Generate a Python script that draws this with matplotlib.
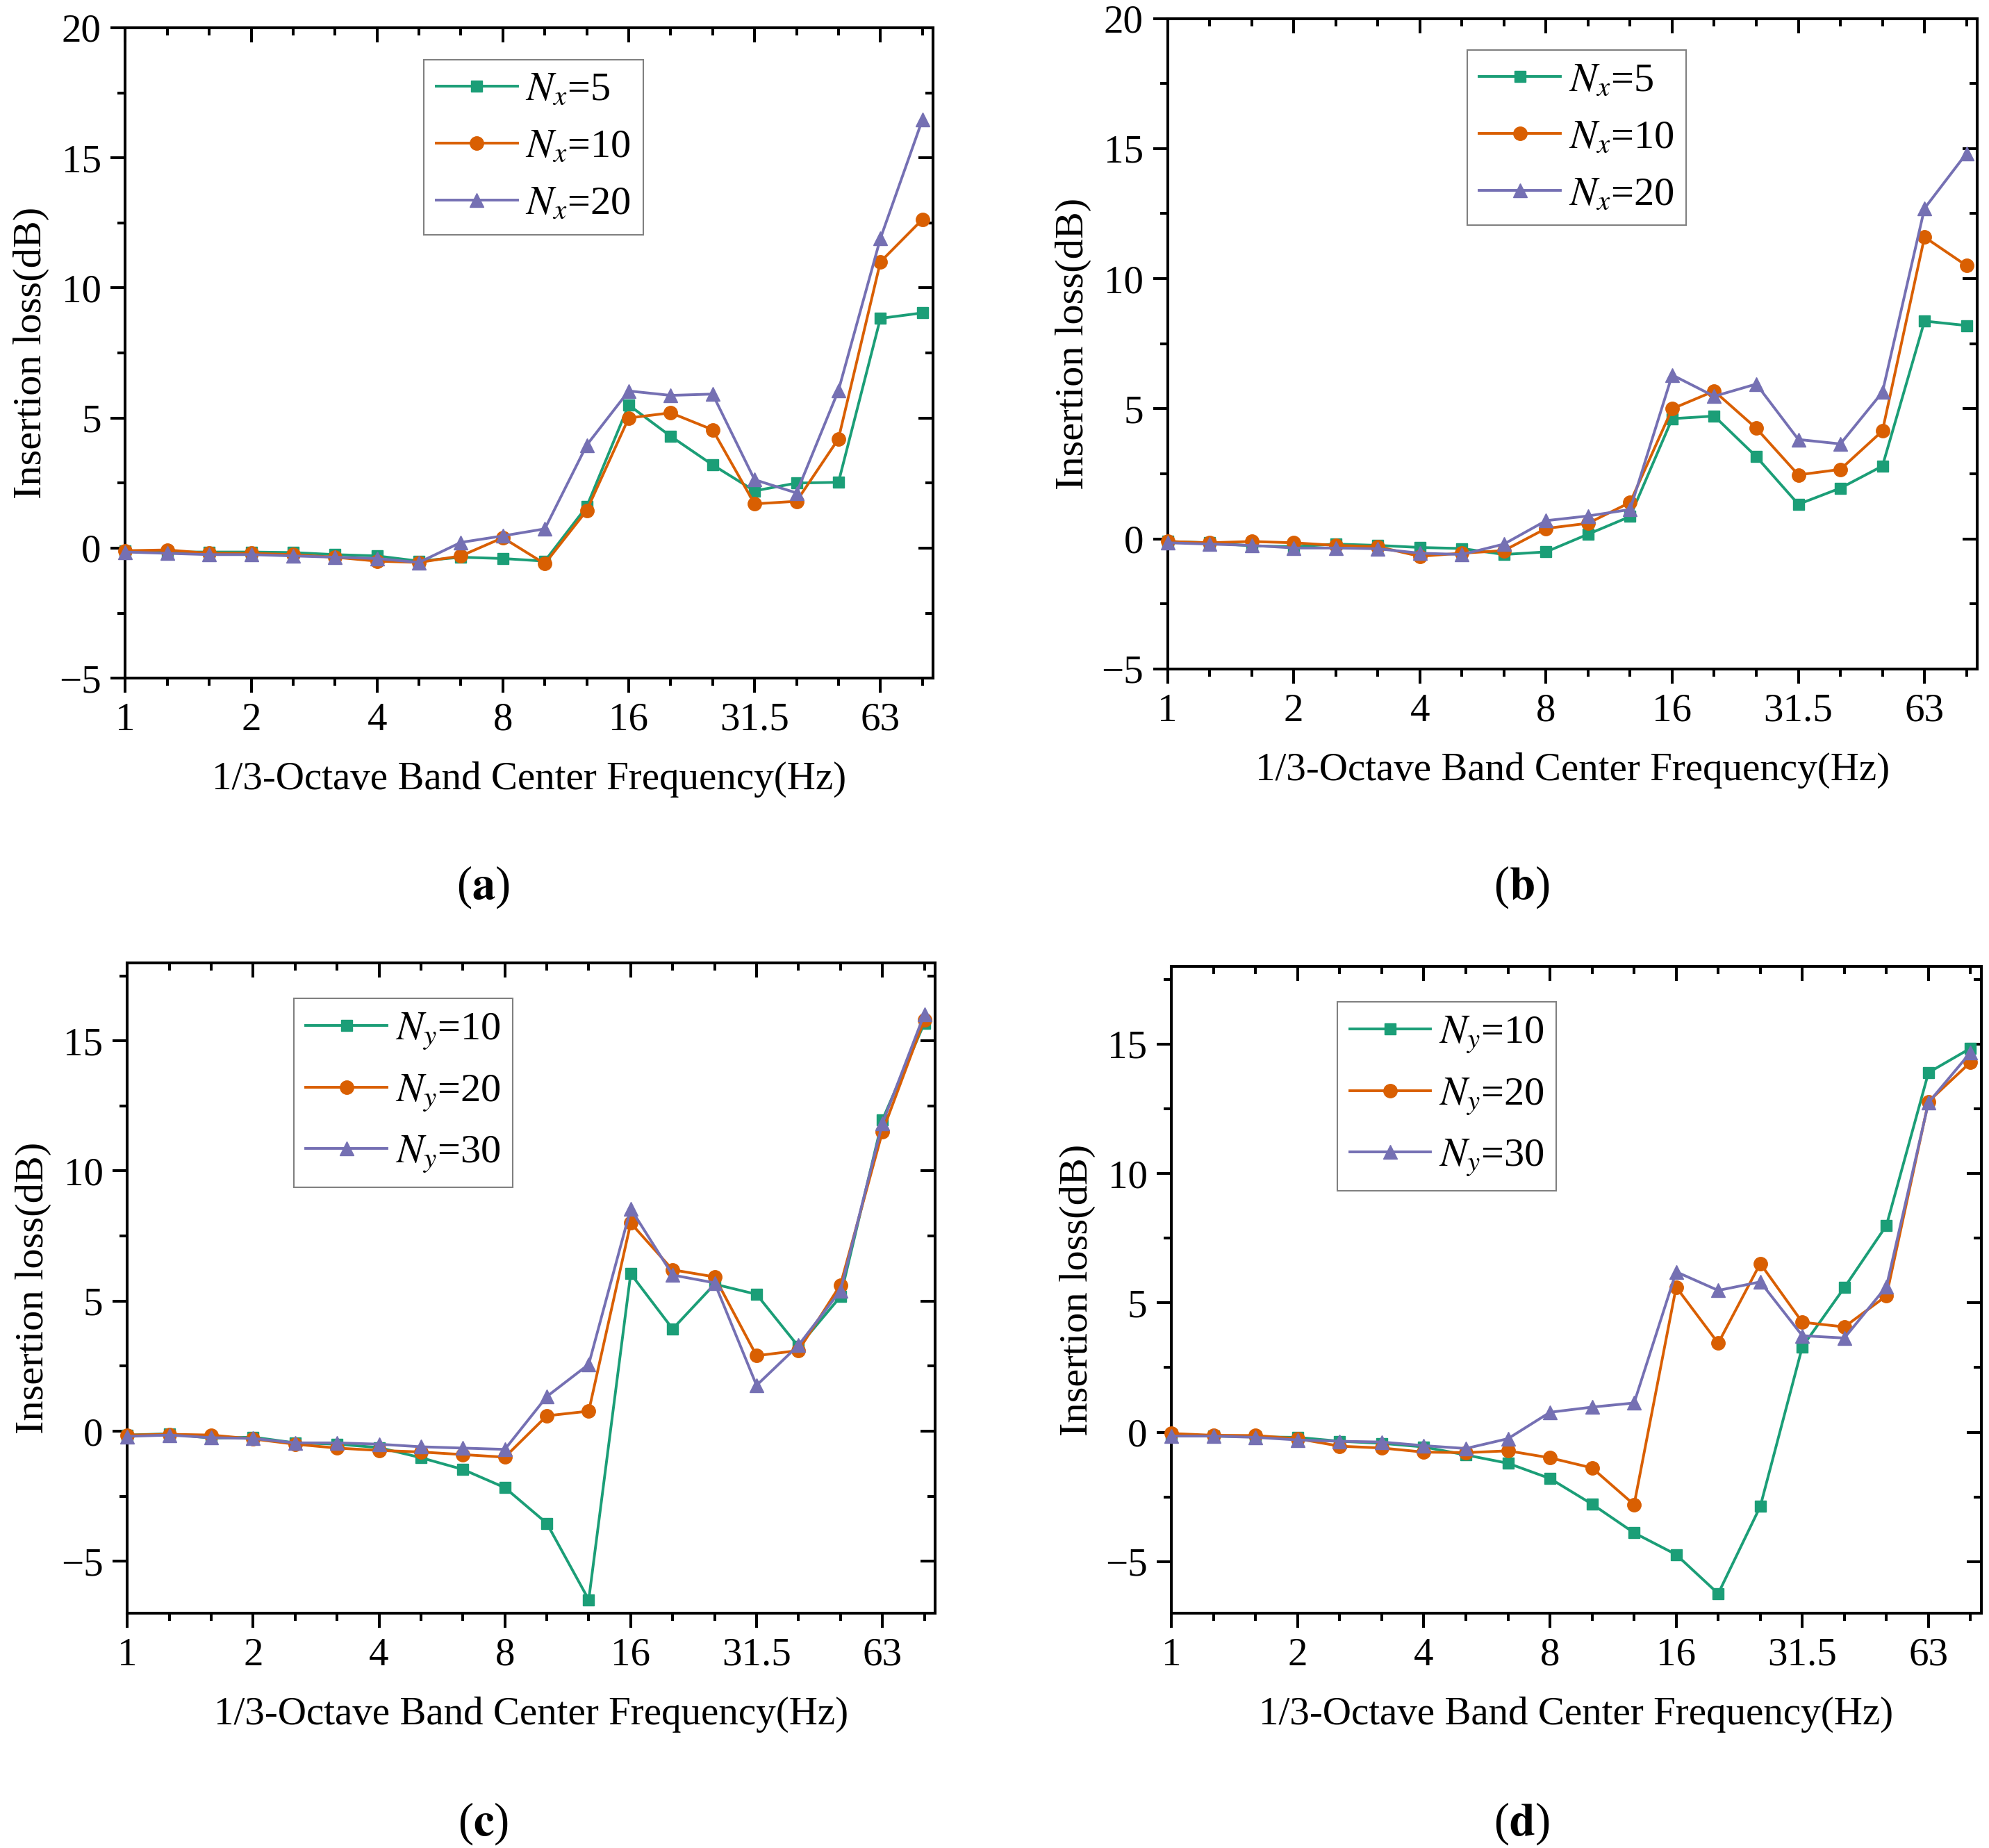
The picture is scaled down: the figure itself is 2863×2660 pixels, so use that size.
import matplotlib
matplotlib.use("Agg")
from matplotlib import pyplot as plt
from matplotlib.ticker import FixedLocator, MultipleLocator

plt.rcParams['font.family'] = ['Liberation Serif', 'DejaVu Serif']
plt.rcParams['mathtext.fontset'] = 'stix'

freq_labels = ['1', '1.25', '1.6', '2', '2.5', '3.15', '4', '5', '6.3', '8',
               '10', '12.5', '16', '20', '25', '31.5', '40', '50', '63', '80']
shown_ticks = ['1', '2', '4', '8', '16', '31.5', '63']

# (a) varying Nx
a_nx5 = [-0.1, -0.15, -0.15, -0.15, -0.17, -0.25, -0.3, -0.5, -0.35, -0.4,
         -0.5, 1.6, 5.5, 4.3, 3.2, 2.2, 2.5, 2.53, 8.83, 9.04]
a_nx10 = [-0.1, -0.07, -0.2, -0.2, -0.25, -0.35, -0.5, -0.55, -0.3, 0.4,
          -0.6, 1.45, 5.0, 5.2, 4.55, 1.7, 1.8, 4.2, 11.0, 12.63]
a_nx20 = [-0.15, -0.2, -0.25, -0.25, -0.3, -0.35, -0.4, -0.55, 0.22, 0.47,
          0.74, 3.96, 6.04, 5.87, 5.92, 2.63, 2.12, 6.06, 11.9, 16.46]

# (b) varying Nx
b_nx5 = [-0.1, -0.15, -0.27, -0.3, -0.2, -0.25, -0.33, -0.37, -0.6, -0.5,
         0.18, 0.86, 4.62, 4.72, 3.16, 1.33, 1.95, 2.8, 8.37, 8.2]
b_nx10 = [-0.1, -0.15, -0.1, -0.15, -0.25, -0.3, -0.67, -0.55, -0.45, 0.4,
          0.6, 1.4, 5.0, 5.68, 4.25, 2.46, 2.67, 4.15, 11.6, 10.5]
b_nx20 = [-0.15, -0.2, -0.25, -0.35, -0.35, -0.38, -0.55, -0.6, -0.2, 0.7,
          0.88, 1.13, 6.3, 5.48, 5.95, 3.82, 3.65, 5.64, 12.7, 14.82]

# (c) varying Ny
c_ny10 = [-0.15, -0.1, -0.27, -0.23, -0.45, -0.5, -0.63, -1.02, -1.47, -2.17,
          -3.54, -6.48, 6.05, 3.93, 5.65, 5.26, 3.25, 5.17, 11.96, 15.68]
c_ny20 = [-0.15, -0.12, -0.15, -0.3, -0.5, -0.65, -0.74, -0.8, -0.9, -1.0,
          0.59, 0.77, 8.0, 6.2, 5.93, 2.9, 3.1, 5.62, 11.5, 15.82]
c_ny30 = [-0.2, -0.15, -0.25, -0.28, -0.45, -0.45, -0.5, -0.6, -0.65, -0.7,
          1.33, 2.57, 8.55, 6.0, 5.7, 1.76, 3.3, 5.4, 11.83, 16.03]

# (d) varying Ny
d_ny10 = [-0.1, -0.15, -0.18, -0.2, -0.35, -0.43, -0.57, -0.88, -1.2, -1.79,
          -2.78, -3.89, -4.73, -6.24, -2.87, 3.3, 5.59, 7.99, 13.9, 14.84]
d_ny20 = [-0.05, -0.12, -0.13, -0.25, -0.54, -0.61, -0.77, -0.79, -0.72, -0.99,
          -1.38, -2.8, 5.61, 3.44, 6.52, 4.25, 4.07, 5.27, 12.78, 14.3]
d_ny30 = [-0.15, -0.15, -0.2, -0.3, -0.35, -0.38, -0.52, -0.63, -0.25, 0.77,
          0.97, 1.13, 6.2, 5.48, 5.81, 3.73, 3.64, 5.63, 12.74, 14.68]

colors = ['#1b9e77', '#d95f02', '#7570b3']
markers = ['s', 'o', '^']
marker_sizes = [12, 14, 15]

# letter, axes rect, y range, series, legend labels, legend corner, label centre
panels = [
    ('a', [0.063, 0.633, 0.406, 0.352], (-5, 20), [a_nx5, a_nx10, a_nx20],
     ['$N_x$=5', '$N_x$=10', '$N_x$=20'], (0.37, 0.951), (0.243, 0.520)),
    ('b', [0.587, 0.638, 0.407, 0.352], (-5, 20), [b_nx5, b_nx10, b_nx20],
     ['$N_x$=5', '$N_x$=10', '$N_x$=20'], (0.37, 0.951), (0.765, 0.520)),
    ('c', [0.064, 0.127, 0.406, 0.352], (-7, 18), [c_ny10, c_ny20, c_ny30],
     ['$N_y$=10', '$N_y$=20', '$N_y$=30'], (0.206, 0.945), (0.243, 0.013)),
    ('d', [0.589, 0.127, 0.407, 0.350], (-7, 18), [d_ny10, d_ny20, d_ny30],
     ['$N_y$=10', '$N_y$=20', '$N_y$=30'], (0.205, 0.945), (0.765, 0.013)),
]

fig = plt.figure(figsize=(28.63, 26.60), dpi=100)
x = list(range(len(freq_labels)))
major_pos = [freq_labels.index(t) for t in shown_ticks]

for letter, rect, ylim, series, labels, leg_pos, lab_pos in panels:
    ax = fig.add_axes(rect)
    for ys, c, m, ms, lab in zip(series, colors, markers, marker_sizes, labels):
        ax.plot(x, ys, color=c, marker=m, markersize=ms, linewidth=2.8,
                label=lab, clip_on=False, zorder=3)
    ax.set_xlim(0, 19.25)
    ax.set_ylim(*ylim)
    ax.xaxis.set_major_locator(FixedLocator(major_pos))
    ax.set_xticklabels(shown_ticks)
    ax.xaxis.set_minor_locator(FixedLocator(x))
    ax.yaxis.set_major_locator(MultipleLocator(5))
    ax.yaxis.set_minor_locator(MultipleLocator(2.5))
    for s in ax.spines.values():
        s.set_linewidth(2.9)
    ax.tick_params(which='major', direction='out', length=15, width=2.9,
                   labelsize=41, pad=10)
    ax.tick_params(which='minor', direction='out', length=8, width=2.9)
    # mirrored ticks on top and right point inward
    top = ax.secondary_xaxis('top')
    top.xaxis.set_major_locator(FixedLocator(major_pos))
    top.xaxis.set_minor_locator(FixedLocator(x))
    top.tick_params(which='major', direction='in', length=15, width=2.9, labeltop=False)
    top.tick_params(which='minor', direction='in', length=8, width=2.9)
    top.spines['top'].set_linewidth(2.9)
    right = ax.secondary_yaxis('right')
    right.yaxis.set_major_locator(MultipleLocator(5))
    right.yaxis.set_minor_locator(MultipleLocator(2.5))
    right.tick_params(which='major', direction='in', length=15, width=2.9, labelright=False)
    right.tick_params(which='minor', direction='in', length=8, width=2.9)
    right.spines['right'].set_linewidth(2.9)

    ax.set_xlabel('1/3-Octave Band Center Frequency(Hz)', fontsize=41, labelpad=24)
    ax.set_ylabel('Insertion loss(dB)', fontsize=42, labelpad=10)
    leg = ax.legend(loc='upper left', bbox_to_anchor=leg_pos, borderaxespad=0,
                    fontsize=42, handlelength=2.0, labelspacing=0.5,
                    fancybox=False, framealpha=1, edgecolor='#808080',
                    borderpad=0.3, handletextpad=0.2)
    leg.get_frame().set_linewidth(1.5)

    fig.text(lab_pos[0], lab_pos[1], '($\\mathbf{' + letter + '}$)', fontsize=48,
             ha='center', va='center')

fig.savefig('out.png', dpi=100)
